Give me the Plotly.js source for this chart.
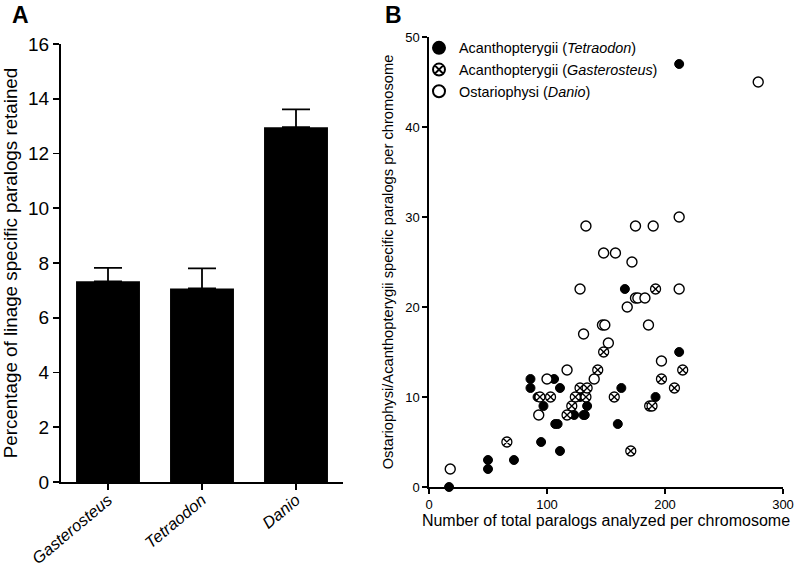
<!DOCTYPE html>
<html>
<head>
<meta charset="utf-8">
<script src="https://cdn.plot.ly/plotly-3.0.1.min.js"></script>
<style>html,body{margin:0;padding:0;background:#fff;}#chart{width:796px;height:570px;}</style>
</head>
<body>
<div id="chart"></div>
<script>
// Panel A data
const categories = ["Gasterosteus", "Tetraodon", "Danio"];
const categoryLabels = ["<i>Gasterosteus</i>", "<i>Tetraodon</i>", "<i>Danio</i>"];
const percentRetained = [7.33, 7.07, 12.96];
const percentError = [0.49, 0.73, 0.65];
const yTicksA = [0, 2, 4, 6, 8, 10, 12, 14, 16];

// Panel B data
const tetraodonX = [17, 50, 50, 72, 95, 111, 86, 86, 106, 111, 92, 97, 107, 109, 123, 128, 131, 132, 134, 160, 163, 166, 192, 212, 212];
const tetraodonY = [0, 2, 3, 3, 5, 4, 11, 12, 12, 11, 10, 9, 7, 7, 8, 10, 8, 8, 9, 7, 11, 22, 10, 15, 47];
const gasterosteusX = [66, 94, 103, 117, 121, 124, 128, 133, 134, 143, 148, 157, 171, 187, 189, 192, 197, 208, 215];
const gasterosteusY = [5, 10, 10, 8, 9, 10, 11, 10, 11, 13, 15, 10, 4, 9, 9, 22, 12, 11, 13];
const danioX = [18, 93, 100, 117, 131, 140, 147, 149, 152, 168, 175, 177, 183, 186, 197, 128, 212, 172, 148, 158, 133, 175, 190, 212, 279];
const danioY = [2, 8, 12, 13, 17, 12, 18, 18, 16, 20, 21, 21, 21, 18, 14, 22, 22, 25, 26, 26, 29, 29, 29, 30, 45];
const xTicksB = [0, 100, 200, 300];
const yTicksB = [0, 10, 20, 30, 40, 50];

const FONT = "Arial, 'Liberation Sans', sans-serif";
const W = 796, H = 570;

const traces = [
  {
    type: "bar", x: categories, y: percentRetained,
    xaxis: "x", yaxis: "y", width: 0.68,
    marker: {color: "#000", line: {width: 0}},
    error_y: {type: "data", symmetric: false, array: percentError, arrayminus: [0, 0, 0],
              color: "#000", thickness: 1.8, width: 14},
    showlegend: false, hoverinfo: "skip"
  },
  {
    type: "scatter", mode: "markers", x: tetraodonX, y: tetraodonY,
    xaxis: "x2", yaxis: "y2", cliponaxis: false,
    name: "Acanthopterygii (<i>Tetraodon</i>)",
    marker: {symbol: "circle", size: 9, color: "#000", line: {color: "#000", width: 1}}
  },
  {
    type: "scatter", mode: "markers", x: gasterosteusX, y: gasterosteusY,
    xaxis: "x2", yaxis: "y2", cliponaxis: false,
    name: "Acanthopterygii (<i>Gasterosteus</i>)",
    marker: {symbol: "circle-x", size: 10, color: "#fff", line: {color: "#000", width: 1.3}}
  },
  {
    type: "scatter", mode: "markers", x: danioX, y: danioY,
    xaxis: "x2", yaxis: "y2", cliponaxis: false,
    name: "Ostariophysi (<i>Danio</i>)",
    marker: {symbol: "circle", size: 10, color: "#fff", line: {color: "#000", width: 1.4}}
  }
];

const layout = {
  width: W, height: H,
  margin: {l: 0, r: 0, t: 0, b: 0},
  paper_bgcolor: "#fff", plot_bgcolor: "rgba(0,0,0,0)",
  font: {family: FONT, color: "#000"},
  showlegend: true,
  legend: {
    x: 419 / W, y: 1 - 32 / H, xanchor: "left", yanchor: "top",
    bgcolor: "rgba(0,0,0,0)", font: {family: FONT, size: 14.4, color: "#000"},
    tracegroupgap: 0, itemsizing: "constant", itemwidth: 30
  },
  xaxis: {
    domain: [61 / W, 343 / W], anchor: "y",
    range: [-0.5, 2.5], type: "category",
    tickmode: "array", tickvals: categories, ticktext: categoryLabels,
    tickangle: -40, ticks: "outside", ticklen: 6, tickwidth: 1.8, tickcolor: "#000",
    ticklabelstandoff: -6,
    showline: true, linecolor: "#000", linewidth: 2, showgrid: false, zeroline: false,
    tickfont: {family: FONT, size: 16.5, color: "#000"}, fixedrange: true
  },
  yaxis: {
    domain: [1 - 482 / H, 1 - 44 / H], anchor: "x",
    range: [0, 16], tickmode: "array", tickvals: yTicksA,
    ticks: "outside", ticklen: 6, tickwidth: 1.8, tickcolor: "#000",
    showline: true, linecolor: "#000", linewidth: 2, showgrid: false, zeroline: false,
    tickfont: {family: FONT, size: 19, color: "#000"},
    title: {text: "Percentage of linage specific paralogs retained", font: {family: FONT, size: 18.8, color: "#000"}, standoff: 6},
    fixedrange: true
  },
  xaxis2: {
    domain: [429 / W, 783 / W], anchor: "y2",
    range: [0, 300], tickmode: "array", tickvals: xTicksB,
    ticks: "outside", ticklen: 5, tickwidth: 1.5, tickcolor: "#000",
    showline: true, linecolor: "#000", linewidth: 1.6, showgrid: false, zeroline: false,
    tickfont: {family: FONT, size: 13, color: "#000"},
    title: {text: "Number of total paralogs analyzed per chromosome", font: {family: FONT, size: 16, color: "#000"}, standoff: 2},
    fixedrange: true
  },
  yaxis2: {
    domain: [1 - 487 / H, 1 - 37 / H], anchor: "x2",
    range: [0, 50], tickmode: "array", tickvals: yTicksB,
    ticks: "outside", ticklen: 5, tickwidth: 1.5, tickcolor: "#000",
    showline: true, linecolor: "#000", linewidth: 1.6, showgrid: false, zeroline: false,
    tickfont: {family: FONT, size: 13, color: "#000"},
    title: {text: "Ostariophysi/Acanthopterygii specific paralogs per chromosome", font: {family: FONT, size: 14.7, color: "#000"}, standoff: 8},
    fixedrange: true
  },
  annotations: [
    {text: "<b>A</b>", xref: "paper", yref: "paper", x: 10 / W, y: 1, xanchor: "left", yanchor: "top",
     showarrow: false, font: {family: FONT, size: 23, color: "#000"}},
    {text: "<b>B</b>", xref: "paper", yref: "paper", x: 383 / W, y: 1, xanchor: "left", yanchor: "top",
     showarrow: false, font: {family: FONT, size: 23, color: "#000"}}
  ]
};

Plotly.newPlot("chart", traces, layout, {displayModeBar: false, staticPlot: true});
</script>
</body>
</html>
